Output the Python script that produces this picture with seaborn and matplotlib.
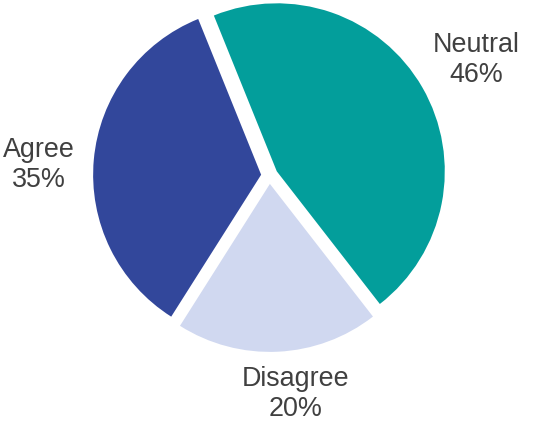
import matplotlib
matplotlib.use("Agg")
import matplotlib.pyplot as plt
import seaborn as sns

categories = ["Neutral", "Disagree", "Agree"]
values = [45.6, 19.5, 34.9]
pct_labels = ["46%", "20%", "35%"]
colors = ["#039E9B", "#D0D8F0", "#32479B"]

sns.set_theme(style="white")
plt.rcParams["font.family"] = ["Liberation Sans", "DejaVu Sans"]

fig = plt.figure(figsize=(5.33, 4.23), dpi=100)
ax = fig.add_axes([0, 0, 1, 1])

r_px = 168.0
cx, cy = 269.5, 175.5
W, H = 533.0, 423.0

wedges, texts = ax.pie(
    values,
    colors=sns.color_palette(colors),
    startangle=112,
    counterclock=False,
    explode=[0.05] * len(values),
    labels=[f"{c}\n{p}" for c, p in zip(categories, pct_labels)],
    labeldistance=1.38,
    textprops=dict(fontsize=19.4, color="#404040", ha="center", va="center",
                   linespacing=1.2),
    wedgeprops=dict(linewidth=0),
)

label_pos = [(1.232, 0.690), (0.158, -1.303), (-1.372, 0.063)]
for t, pos in zip(texts, label_pos):
    t.set_position(pos)
    t.set_horizontalalignment("center")

ax.set_xlim(-cx / r_px, (W - cx) / r_px)
ax.set_ylim(-(H - cy) / r_px, cy / r_px)
ax.set_aspect("auto")
ax.axis("off")

fig.savefig("out.png", dpi=100, facecolor="white")
